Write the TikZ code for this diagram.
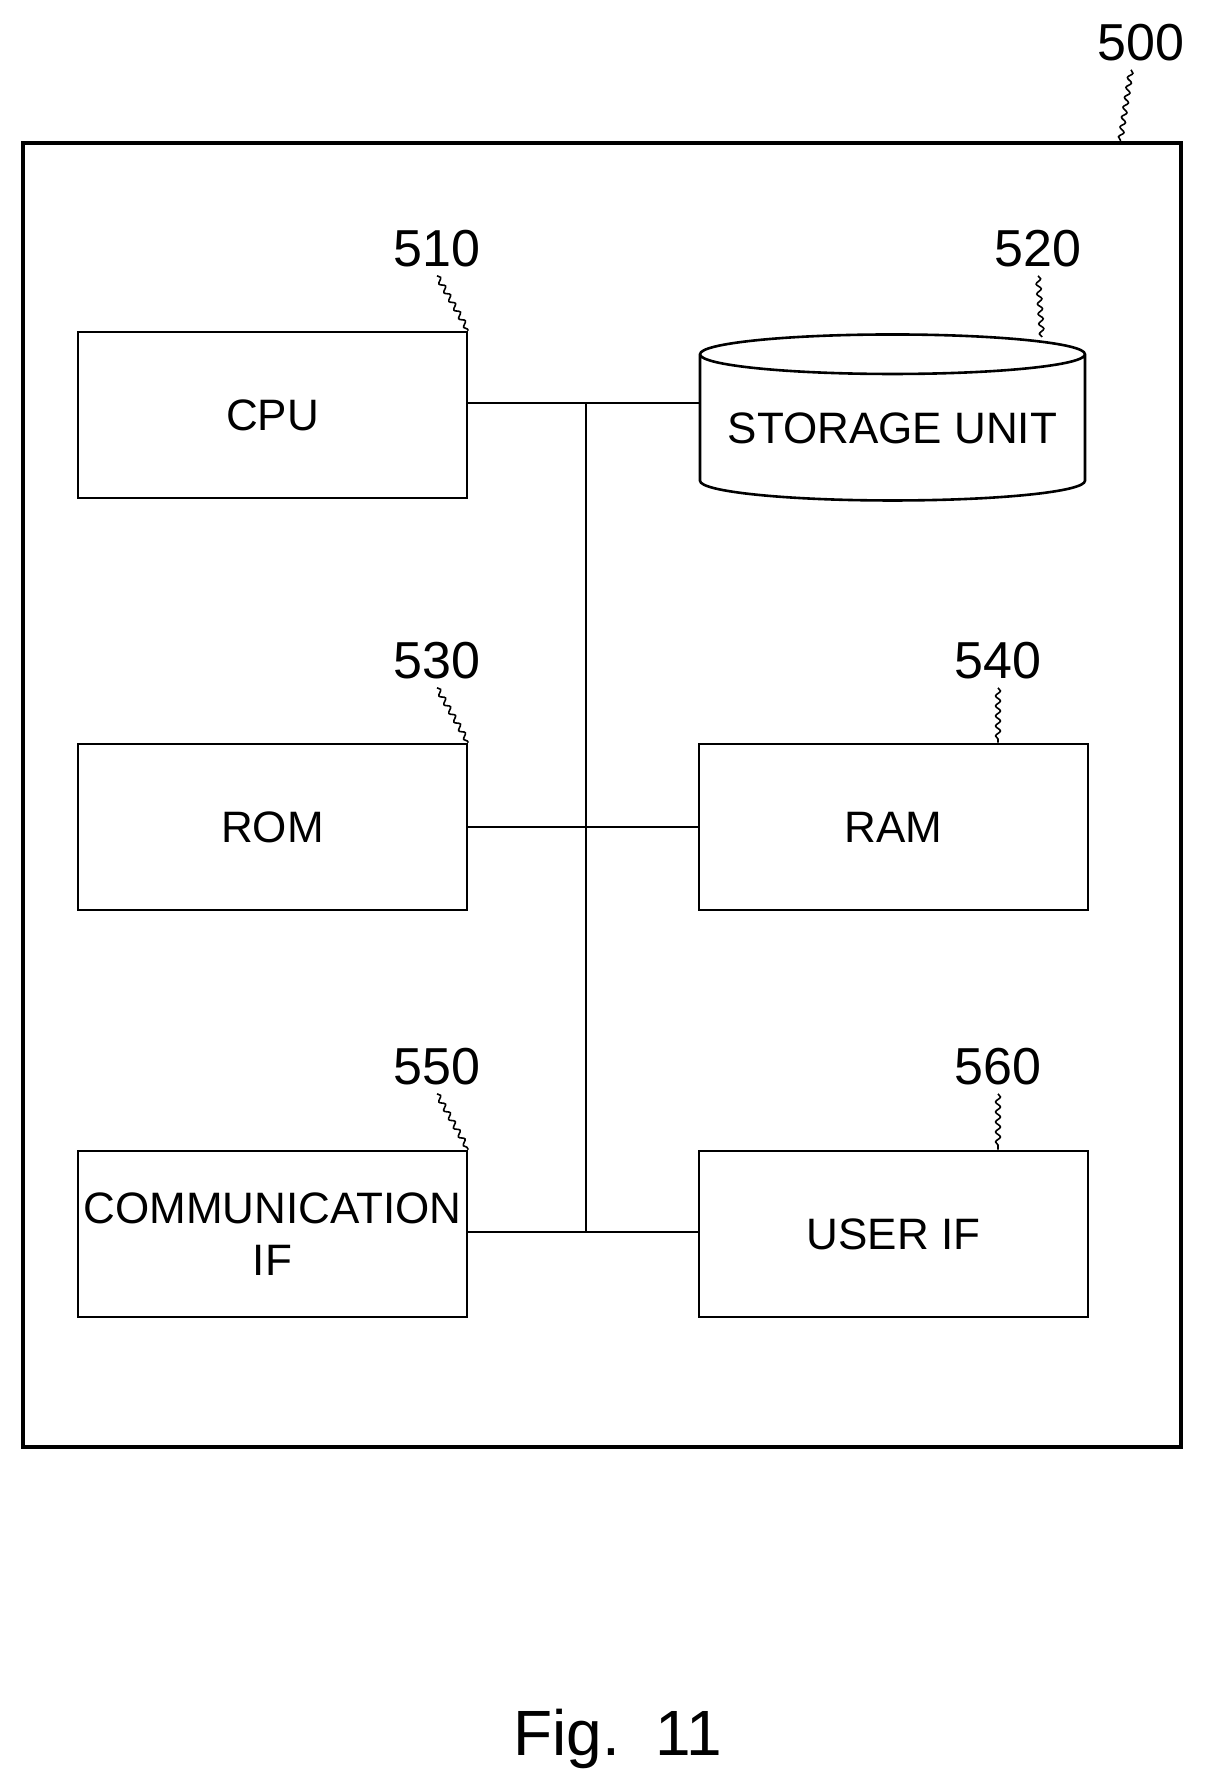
\documentclass[tikz,border=0pt]{standalone}
\usepackage{fontspec}
\setmainfont{Liberation Sans}
\usetikzlibrary{shapes.geometric,decorations.pathmorphing}
\begin{document}
\begin{tikzpicture}[x=0.5pt,y=-0.5pt,
 box/.style={draw,line width=1.3pt,minimum width=194.5pt,minimum height=83pt,inner sep=0pt,font=\fontsize{22}{26}\selectfont,align=center},
 lab/.style={font=\fontsize{26}{30}\selectfont,inner sep=0pt},
 lead/.style={line width=0.8pt,decorate,decoration={snake,amplitude=1.2pt,segment length=5pt}},
 bus/.style={line width=1.3pt}]
\useasboundingbox (0,0) rectangle (1213,1792);
\draw[line width=1.6pt] (23,143) rectangle (1181,1447);
\node[box] (cpu) at (272.5,415) {CPU};
\node[box] (rom) at (272.5,827) {ROM};
\node[box] (comm) at (272.5,1234) {COMMUNICATION\\IF};
\node[box] (ram) at (893.5,827) {RAM};
\node[box] (uif) at (893.5,1234) {USER IF};
\node[draw,line width=1.3pt,cylinder,shape border rotate=90,aspect=0.12,minimum width=192.5pt,minimum height=83pt,inner sep=0pt,font=\fontsize{22}{26}\selectfont] (st) at (892.5,428) {STORAGE UNIT};
\coordinate (btop) at (586,403);
\coordinate (bbot) at (586,1232);
\draw[bus] (btop) -- (bbot);
\draw[bus] (cpu.east |- btop) -- (st.west |- btop);
\draw[bus] (rom.east) -- (ram.west);
\draw[bus] (comm.east |- bbot) -- (uif.west |- bbot);
\node[lab] (l500) at (1141,43) {500};
\node[lab] (l510) at (437,249) {510};
\node[lab] (l520) at (1038,249) {520};
\node[lab] (l530) at (437,661) {530};
\node[lab] (l540) at (998,661) {540};
\node[lab] (l550) at (437,1067) {550};
\node[lab] (l560) at (998,1067) {560};
\coordinate (c500) at (1120,143);
\coordinate (c520) at (1042,337);
\draw[lead] (l500.south) ++(-10,8) -- (c500);
\draw[lead] (l510.south) ++(0,8) -- (cpu.north east);
\draw[lead] (l520.south) ++(0,8) -- (c520);
\draw[lead] (l530.south) ++(0,8) -- (rom.north east);
\draw[lead] (l540.south) ++(0,8) -- (ram.north -| 998,0);
\draw[lead] (l550.south) ++(0,8) -- (comm.north east);
\draw[lead] (l560.south) ++(0,8) -- (uif.north -| 998,0);
\node[font=\fontsize{32}{36}\selectfont] (fig) at (618,1739) {Fig.\ \ 11};
\end{tikzpicture}
\end{document}
